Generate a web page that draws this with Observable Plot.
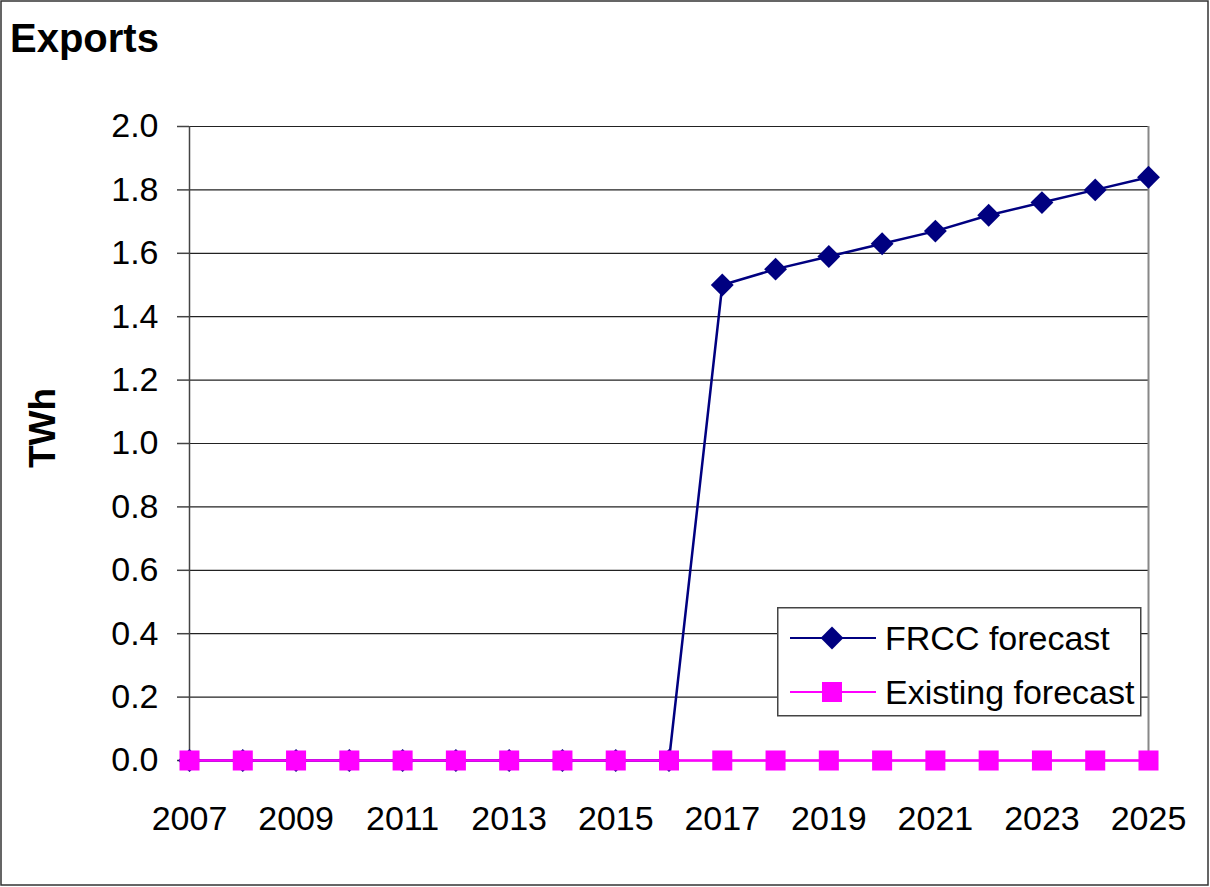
<!DOCTYPE html>
<html>
<head>
<meta charset="utf-8">
<script src="https://cdn.jsdelivr.net/npm/d3@7"></script>
<script src="https://cdn.jsdelivr.net/npm/@observablehq/plot@0.6"></script>
<style>
  html, body { margin: 0; padding: 0; background: #fff; }
  #wrap { position: relative; width: 1210px; height: 887px; font-family: "Liberation Sans", Arial, sans-serif; }
</style>
</head>
<body>
<div id="wrap"></div>
<script>
const years = [2007,2008,2009,2010,2011,2012,2013,2014,2015,2016,2017,2018,2019,2020,2021,2022,2023,2024,2025];
const frccForecast = [0,0,0,0,0,0,0,0,0,0,1.50,1.55,1.59,1.63,1.67,1.72,1.76,1.80,1.84];
const existingForecast = [0,0,0,0,0,0,0,0,0,0,0,0,0,0,0,0,0,0,0];
const seriesNames = ["FRCC forecast", "Existing forecast"];
const seriesColors = ["#000080", "#ff00ff"];
const yTicks = [0,0.2,0.4,0.6,0.8,1.0,1.2,1.4,1.6,1.8,2.0];
const titleText = "Exports";
const yLabel = "TWh";

const frcc = years.map((y, i) => ({year: y, value: frccForecast[i]}));
const existing = years.map((y, i) => ({year: y, value: existingForecast[i]}));

const chart = Plot.plot({
  width: 1210,
  height: 887,
  marginLeft: 189,
  marginRight: 62,
  marginTop: 126,
  marginBottom: 127,
  style: {fontFamily: "'Liberation Sans', Arial, sans-serif", fontSize: "34px", color: "#000", background: "#fff"},
  x: {domain: [2007, 2025], type: "linear"},
  y: {domain: [0, 2]},
  marks: [
    Plot.gridY(yTicks, {stroke: "#222", strokeOpacity: 1, strokeWidth: 1.2}),
    Plot.ruleX([2025], {stroke: "#888", strokeWidth: 2}),
    Plot.ruleX([2007], {stroke: "#444", strokeWidth: 1.5}),
    Plot.axisY({ticks: yTicks, tickFormat: d3.format(".1f"), tickSize: 12, tickPadding: 19, stroke: "#444", strokeWidth: 1.5, label: null, fontSize: 34, fill: "#000"}),
    Plot.axisX({ticks: years, tickSize: 9, tickPadding: 36, stroke: "#444", strokeWidth: 1.5, label: null, fontSize: 34, fill: "#000",
      tickFormat: d => ((d - 2007) % 2 === 0 ? String(d) : "")}),
    Plot.ruleY([0], {stroke: "#444", strokeWidth: 1.5}),
    Plot.line(frcc, {x: "year", y: "value", stroke: seriesColors[0], strokeWidth: 2.5}),
    Plot.dot(frcc, {x: "year", y: "value", symbol: "diamond2", r: 10.3, fill: seriesColors[0], stroke: "none"}),
    Plot.line(existing, {x: "year", y: "value", stroke: seriesColors[1], strokeWidth: 2.5}),
    Plot.dot(existing, {x: "year", y: "value", symbol: "square", r: 11.3, fill: seriesColors[1], stroke: "none"})
  ]
});

const svg = d3.select(chart);
// outer chart border
svg.append("rect").attr("x", 1).attr("y", 1).attr("width", 1207).attr("height", 884)
  .attr("fill", "none").attr("stroke", "#333").attr("stroke-width", 1.5);
// title
svg.append("text").attr("x", 10).attr("y", 52).attr("text-anchor", "start").text(titleText)
  .attr("font-family", "'Liberation Sans', Arial, sans-serif").attr("font-weight", "bold").attr("font-size", 40).attr("fill", "#000");
// y label
svg.append("text").attr("transform", "translate(55,428) rotate(-90)").attr("text-anchor", "middle").text(yLabel)
  .attr("font-family", "'Liberation Sans', Arial, sans-serif").attr("font-weight", "bold").attr("font-size", 37).attr("fill", "#000");

const wrap = document.getElementById("wrap");
wrap.appendChild(chart);

// legend
const leg = d3.create("svg").attr("width", 366).attr("height", 111)
  .style("position", "absolute").style("left", "777px").style("top", "607px");
leg.append("rect").attr("x", 0.75).attr("y", 0.75).attr("width", 363).attr("height", 108)
  .attr("fill", "#fff").attr("stroke", "#444").attr("stroke-width", 1.5);
const rows = [31, 85];
const legSymbols = [d3.symbolDiamond2, d3.symbolSquare];
const legSizes = [Math.PI * 10.3 * 10.3, Math.PI * 11.3 * 11.3];
seriesNames.forEach((name, i) => {
  const g = leg.append("g");
  g.append("line").attr("x1", 13).attr("x2", 99).attr("y1", rows[i]).attr("y2", rows[i])
    .attr("stroke", seriesColors[i]).attr("stroke-width", 2);
  g.append("path").attr("d", d3.symbol(legSymbols[i], legSizes[i])())
    .attr("transform", `translate(55,${rows[i]})`).attr("fill", seriesColors[i]);
  g.append("text").attr("x", 108).attr("y", rows[i]).attr("dy", "0.35em").text(name)
    .attr("font-family", "'Liberation Sans', Arial, sans-serif").attr("font-size", 34).attr("fill", "#000");
});
wrap.appendChild(leg.node());
</script>
</body>
</html>
